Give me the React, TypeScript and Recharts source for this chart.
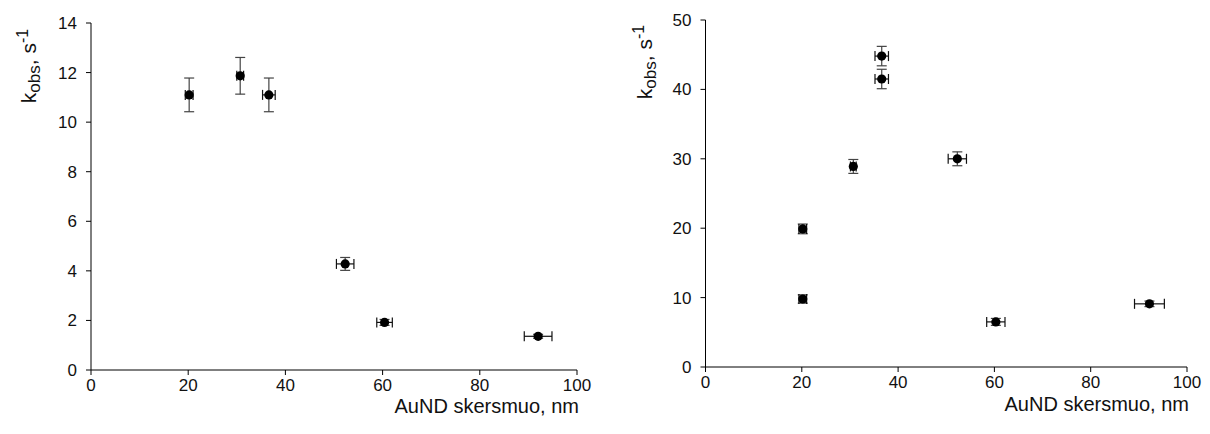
import { ErrorBar, Label, Scatter, ScatterChart, XAxis, YAxis } from "recharts";

// kairė diagrama
const diamLeft = [20.2, 30.7, 36.6, 52.3, 60.4, 92.0];
const kLeft = [11.1, 11.87, 11.1, 4.28, 1.92, 1.36];
const errDiamLeft = [0.8, 0.7, 1.3, 1.8, 1.6, 2.85];
const errKLeft = [0.68, 0.74, 0.68, 0.26, 0.12, 0.08];

// dešinė diagrama
const diamRight = [36.6, 36.6, 30.7, 52.3, 20.2, 20.2, 60.3, 92.2];
const kRight = [44.8, 41.5, 28.9, 30.0, 19.9, 9.8, 6.5, 9.1];
const errDiamRight = [1.4, 1.4, 0.6, 1.9, 0.8, 0.8, 1.9, 3.1];
const errKRight = [1.4, 1.4, 1.0, 1.0, 0.7, 0.6, 0.5, 0.4];

const xTicks = [0, 20, 40, 60, 80, 100];
const yTicksLeft = [0, 2, 4, 6, 8, 10, 12, 14];
const yTicksRight = [0, 10, 20, 30, 40, 50];

const FONT = "'Liberation Sans', Arial, sans-serif";

type Pt = { d: number; k: number; ed: number; ek: number };

function rows(d: number[], k: number[], ed: number[], ek: number[]): Pt[] {
  return d.map((v, i) => ({ d: v, k: k[i], ed: ed[i], ek: ek[i] }));
}

const Dot = (p: any) => <circle cx={p.cx} cy={p.cy} r={4.6} fill="#000" />;

type PanelProps = {
  data: Pt[];
  width: number;
  margin: { top: number; right: number; bottom: number; left: number };
  yMax: number;
  yTicks: number[];
  titleX: number;
  titleY: number;
  xTitleDy: number;
};

function Panel({ data, width, margin, yMax, yTicks, titleX, titleY, xTitleDy }: PanelProps) {
  const tick = { fontSize: 17, fill: "#111", fontFamily: FONT };
  return (
    <ScatterChart width={width} height={434} margin={margin}>
      <XAxis
        type="number"
        dataKey="d"
        domain={[0, 100]}
        ticks={xTicks}
        tick={tick}
        tickSize={5}
        tickMargin={4}
        stroke="#000"
        height={40}
      >
        <Label
          content={(p: any) => {
            const vb = p.viewBox;
            return (
              <text x={vb.x + vb.width + 2} y={vb.y + xTitleDy} textAnchor="end" fontSize={20} fontFamily={FONT} fill="#111">
                AuND skersmuo, nm
              </text>
            );
          }}
        />
      </XAxis>
      <YAxis
        type="number"
        dataKey="k"
        domain={[0, yMax]}
        ticks={yTicks}
        tick={tick}
        tickSize={5}
        tickMargin={9}
        stroke="#000"
        width={60}
      >
        <Label
          content={() => (
            <text
              x={titleX}
              y={titleY}
              transform={`rotate(-90, ${titleX}, ${titleY})`}
              textAnchor="middle"
              fontSize={21}
              fontFamily={FONT}
              fill="#111"
            >
              k
              <tspan fontSize={17} dy={4}>obs</tspan>
              <tspan fontSize={21} dy={-4}>, s</tspan>
              <tspan fontSize={16} dy={-8}>-1</tspan>
            </text>
          )}
        />
      </YAxis>
      <Scatter data={data} shape={Dot} isAnimationActive={false}>
        <ErrorBar dataKey="ek" direction="y" width={5} stroke="#444" strokeWidth={1.2} isAnimationActive={false} />
        <ErrorBar dataKey="ed" direction="x" width={5} stroke="#111" strokeWidth={1.2} isAnimationActive={false} />
      </Scatter>
    </ScatterChart>
  );
}

export default function App() {
  return (
    <div style={{ position: "fixed", left: 0, top: 0, width: 1210, height: 434, background: "#fff" }}>
      <div style={{ position: "absolute", left: 0, top: 0 }}>
        <Panel
          data={rows(diamLeft, kLeft, errDiamLeft, errKLeft)}
          width={620}
          margin={{ top: 23, right: 43, bottom: 24, left: 31 }}
          yMax={14}
          yTicks={yTicksLeft}
          titleX={36}
          titleY={66}
          xTitleDy={43}
        />
      </div>
      <div style={{ position: "absolute", left: 620, top: 0 }}>
        <Panel
          data={rows(diamRight, kRight, errDiamRight, errKRight)}
          width={590}
          margin={{ top: 20, right: 23, bottom: 27, left: 25.5 }}
          yMax={50}
          yTicks={yTicksRight}
          titleX={32}
          titleY={62}
          xTitleDy={44}
        />
      </div>
    </div>
  );
}
